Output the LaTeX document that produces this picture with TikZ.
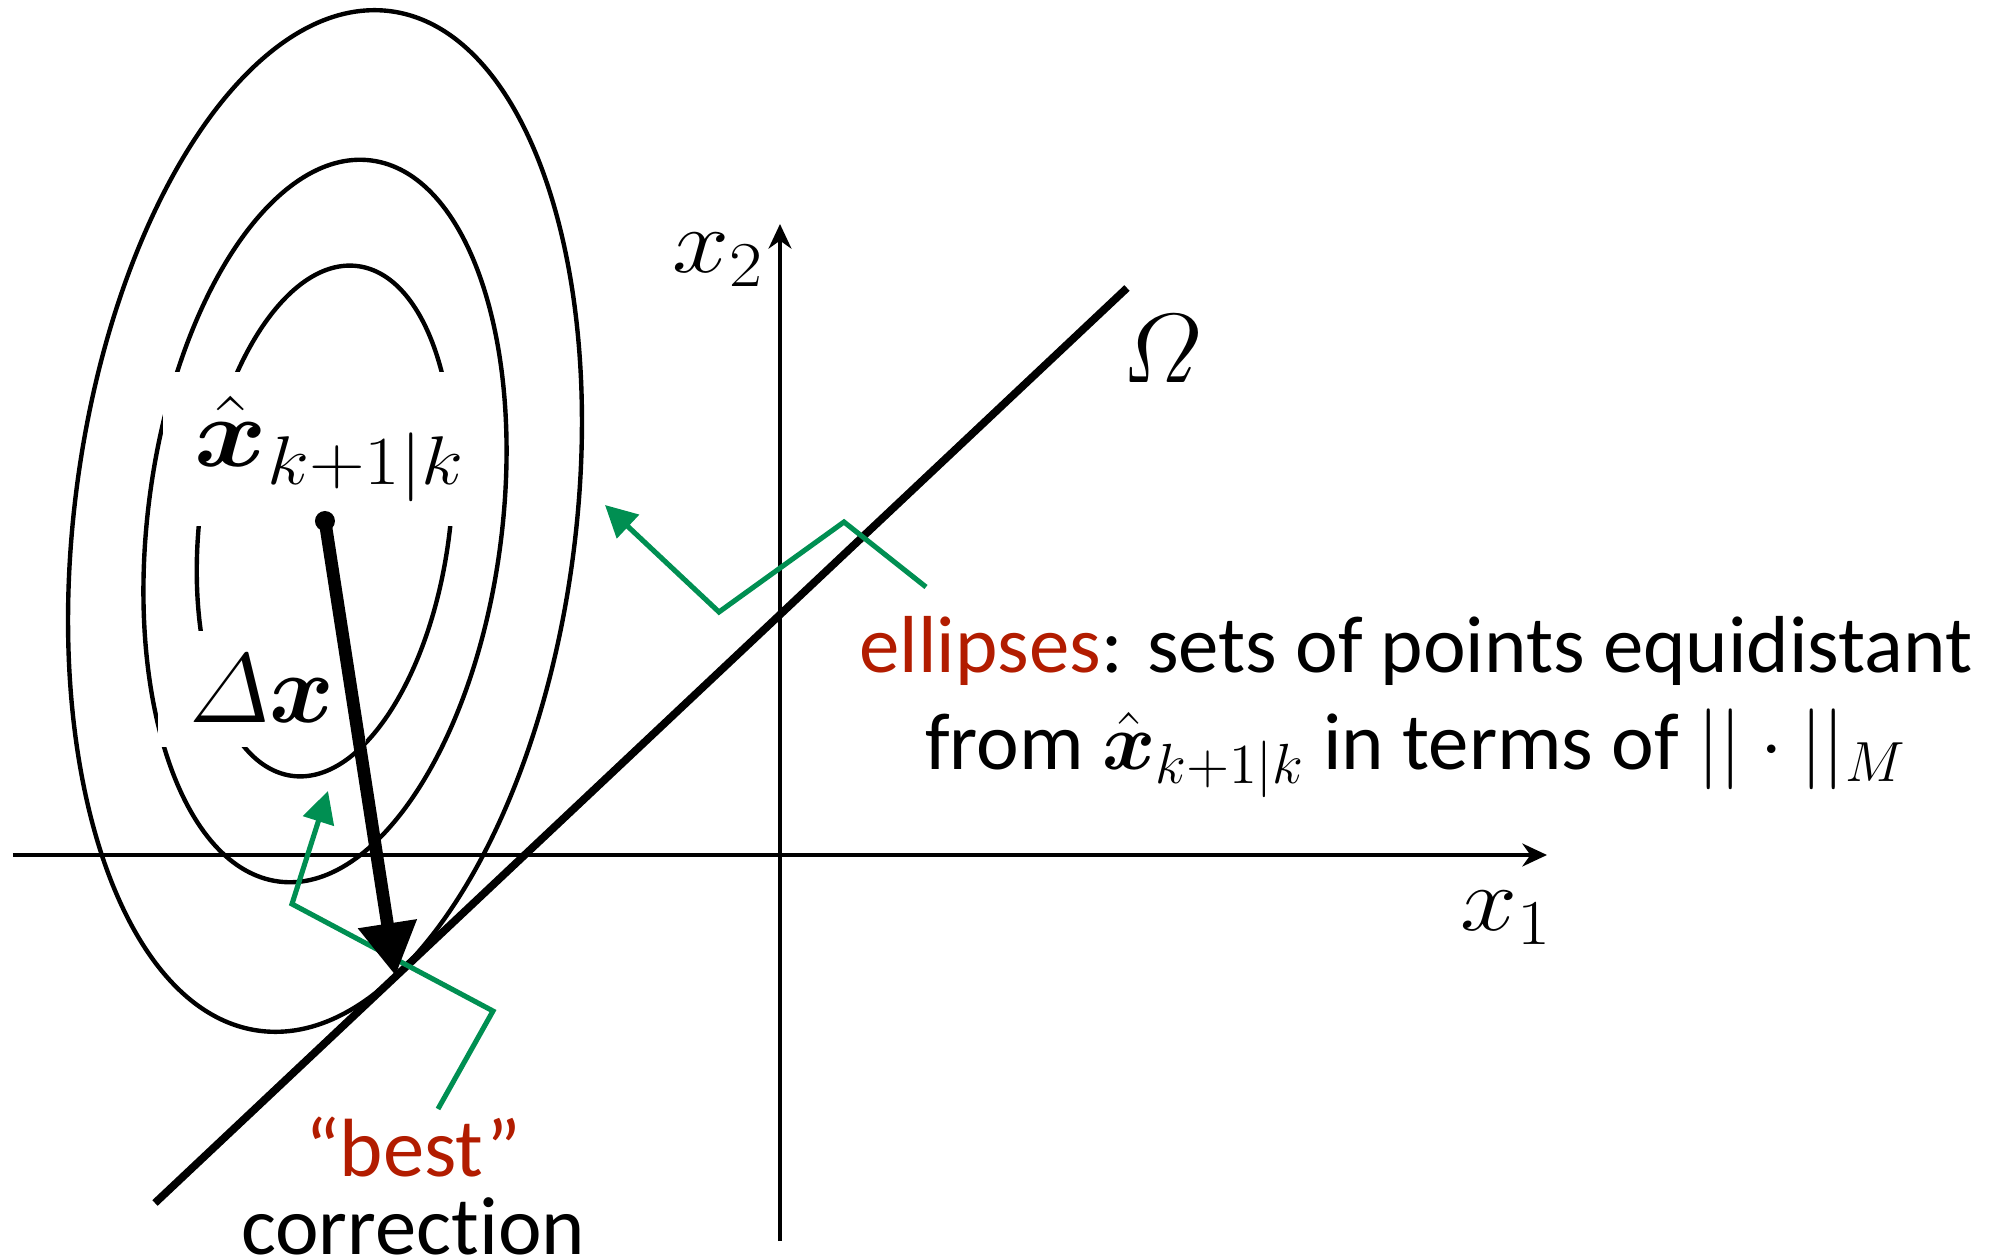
\documentclass[tikz,border=0pt]{standalone}
\usepackage{amsmath}
\usepackage{fix-cm}
\usepackage[no-math]{fontspec}
\setmainfont{Carlito}[Ligatures={TeX,NoCommon}]
\usetikzlibrary{arrows.meta}
\definecolor{pointgreen}{RGB}{0,143,82}
\definecolor{notered}{RGB}{178,28,0}
\newcommand{\widemath}[1]{\scalebox{1.12}[1]{$#1$}}

\begin{document}
\begin{tikzpicture}[
  ell/.style={line width=1.25pt, rotate around={-7.3:(C)}},
  pointer/.style={draw=pointgreen, line width=1.45pt, -{Triangle[length=9pt,width=9pt]}},
  lbl/.style={fill=white, inner xsep=9pt, inner ysep=7pt, font=\fontsize{28}{32}\selectfont},
  axislbl/.style={font=\fontsize{26}{30}\selectfont}
]
  \useasboundingbox (-7.80,-4.03) rectangle (12.16,8.55);

  % axes
  \draw[line width=1.15pt, -{Stealth[length=7pt,width=6.5pt]}] (-7.67,0) -- (7.67,0);
  \draw[line width=1.15pt, -{Stealth[length=7pt,width=6.5pt]}] (0,-3.86) -- (0,6.31);
  \node[axislbl] (xone) at (7.26,-0.63) {\widemath{x_1}};
  \node[axislbl] (xtwo) at (-0.62,5.95) {\widemath{x_2}};

  % constraint line
  \draw[line width=2.2pt] (-6.25,-3.48) -- (3.47,5.67);
  \node[lbl, fill=none] (omega) at (3.82,5.06) {$\varOmega$};

  % ellipses round the prediction
  \coordinate (C) at (-4.55,3.34);
  \draw[ell] (C) ellipse (1.25 and 2.57);
  \draw[ell] (C) ellipse (1.77 and 3.635);
  \draw[ell] (C) ellipse (2.505 and 5.14);

  \node[lbl] (xhat) at (-4.50,4.06) {\widemath{\hat{\boldsymbol{x}}_{k+1|k}}};
  \node[lbl] (dx) at (-5.18,1.66) {$\varDelta\boldsymbol{x}$};

  % notes
  \node[align=center, font=\fontsize{23}{27.6}\selectfont] (ellnote) at (6.36,1.48)
    {\textcolor{notered}{ellipses}: sets of points equidistant\\
     from $\hat{\boldsymbol{x}}_{k+1|k}$ in terms of $||\cdot||_M$};
  \node[align=center, font=\fontsize{23.5}{22}\selectfont] (bestnote) at (-3.67,-3.31)
    {\textcolor{notered}{“best”}\\correction};

  \coordinate (ell from) at (1.46,2.68);
  \coordinate (ell to) at (-1.75,3.50);
  \draw[pointer] (ell from) -- (0.64,3.33) -- (-0.61,2.43) -- (ell to);

  \coordinate (best from) at (-3.42,-2.54);
  \coordinate (best to) at (-4.52,0.64);
  \draw[pointer] (best from) -- (-2.87,-1.56) -- (-4.88,-0.49) -- (best to);

  % correction step
  \coordinate (T) at (-3.845,-1.208);
  \draw[line width=3.6pt, -{Triangle[length=15pt,width=16pt]}] (C) -- (T);
  \fill (C) circle (0.1);
\end{tikzpicture}
\end{document}
